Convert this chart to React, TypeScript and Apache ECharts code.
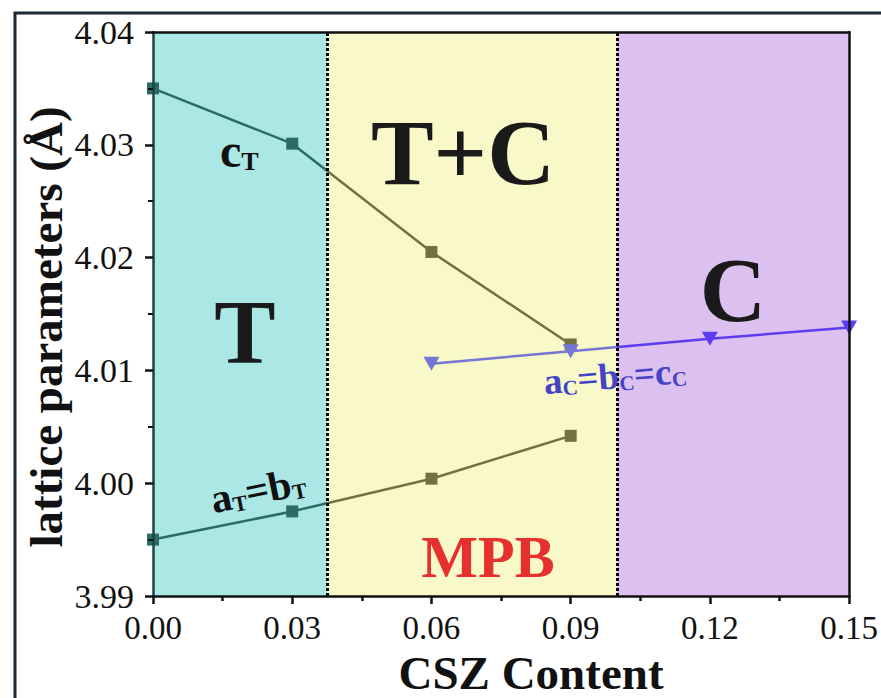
import React, { useEffect, useRef } from "react";
import * as echarts from "echarts";

// ---- data ----
const tetraX = [0, 0.03, 0.06, 0.09];
const cT = [4.035, 4.0301, 4.0205, 4.0123];
const aT = [3.995, 3.9975, 4.0004, 4.0042];
const cubicX = [0.06, 0.09, 0.12, 0.15];
const aC = [4.0106, 4.0117, 4.0128, 4.0138];
const phaseBounds = [0.0375, 0.1];
const xMin = 0;
const xMax = 0.15;
const xInterval = 0.03;
const yMin = 3.99;
const yMax = 4.04;
const yInterval = 0.01;

const CYAN = "#aae7e5";
const YELLOW = "#f8f8c8";
const PURPLE = "#dcc0f0";
const TEAL = "#2b6b66";
const OLIVE = "#727240";
const BLUE_LIGHT = "#7676d6";
const BLUE = "#5a3cf2";
const FONT = "Liberation Serif";

export default function App() {
  const ref = useRef<HTMLDivElement>(null);
  useEffect(() => {
    if (!ref.current) return;
    const chart = echarts.init(ref.current, undefined, { renderer: "svg" });
    const pairs = (xs: number[], ys: number[]) => xs.map((x, i) => [x, ys[i]]);
    const axisLineStyle = { color: "#111", width: 2.5 };
    const option: any = {
      animation: false,
      backgroundColor: "#fff",
      textStyle: { fontFamily: FONT },
      grid: { left: 153, top: 32, width: 699, height: 564, containLabel: false },
      xAxis: [
        {
          type: "value",
          position: "bottom",
          min: xMin,
          max: xMax,
          interval: xInterval,
          z: 5,
          axisLine: { show: true, onZero: false, lineStyle: axisLineStyle },
          axisTick: { show: true, inside: false, length: 8, lineStyle: { color: "#111", width: 2.5 } },
          minorTick: { show: true, splitNumber: 2, length: 5, lineStyle: { color: "#111", width: 2.5 } },
          axisLabel: {
            margin: 15,
            fontFamily: FONT,
            fontSize: 33,
            color: "#111",
            formatter: (v: number) => v.toFixed(2),
          },
          splitLine: { show: false },
        },
        {
          type: "value",
          position: "top",
          min: xMin,
          max: xMax,
          z: 5,
          axisLine: { show: true, onZero: false, lineStyle: axisLineStyle },
          axisTick: { show: false },
          axisLabel: { show: false },
          splitLine: { show: false },
        },
      ],
      yAxis: [
        {
          type: "value",
          position: "left",
          min: yMin,
          max: yMax,
          interval: yInterval,
          z: 5,
          axisLine: { show: true, onZero: false, lineStyle: { color: "#1f4444", width: 2.5 } },
          axisTick: { show: true, inside: false, length: 8, lineStyle: { color: "#111", width: 2.5 } },
          minorTick: { show: true, splitNumber: 2, length: 5, lineStyle: { color: "#111", width: 2 } },
          axisLabel: {
            margin: 19,
            fontFamily: FONT,
            fontSize: 34,
            color: "#111",
            formatter: (v: number) => v.toFixed(2),
          },
          splitLine: { show: false },
        },
        {
          type: "value",
          position: "right",
          min: yMin,
          max: yMax,
          z: 5,
          axisLine: { show: true, onZero: false, lineStyle: axisLineStyle },
          axisTick: { show: false },
          axisLabel: { show: false },
          splitLine: { show: false },
        },
      ],
      visualMap: [
        {
          type: "piecewise",
          show: false,
          dimension: 0,
          seriesIndex: [1, 2],
          pieces: [
            { lt: phaseBounds[0], color: TEAL },
            { gte: phaseBounds[0], lte: 1, color: OLIVE },
            { gt: 1, color: OLIVE },
          ],
        },
        {
          type: "piecewise",
          show: false,
          dimension: 0,
          seriesIndex: [3],
          pieces: [
            { lt: phaseBounds[1], color: BLUE_LIGHT },
            { gte: phaseBounds[1], lte: 1, color: BLUE },
            { gt: 1, color: BLUE },
          ],
        },
      ],
      series: [
        {
          type: "line",
          data: [[xMin, yMin], [xMax, yMin]],
          z: 1,
          silent: true,
          symbol: "none",
          lineStyle: { opacity: 0 },
          markArea: {
            silent: true,
            data: [
              [{ xAxis: xMin, itemStyle: { color: CYAN } }, { xAxis: phaseBounds[0] }],
              [{ xAxis: phaseBounds[0], itemStyle: { color: YELLOW } }, { xAxis: phaseBounds[1] }],
              [{ xAxis: phaseBounds[1], itemStyle: { color: PURPLE } }, { xAxis: xMax }],
            ],
          },
          markLine: {
            silent: true,
            precision: 5,
            symbol: ["none", "none"],
            label: { show: false },
            lineStyle: { color: "#000", width: 3, type: [3, 2] },
            data: phaseBounds.map((b) => ({ xAxis: b })),
          },
        },
        {
          name: "cT",
          type: "line",
          z: 3,
          data: pairs(tetraX, cT),
          symbol: "rect",
          symbolSize: 12,
          lineStyle: { width: 2.5 },
        },
        {
          name: "aT",
          type: "line",
          z: 3,
          data: pairs(tetraX, aT),
          symbol: "rect",
          symbolSize: 12,
          lineStyle: { width: 2.5 },
        },
        {
          name: "aC",
          type: "line",
          z: 4,
          data: pairs(cubicX, aC),
          symbol: "triangle",
          symbolRotate: 180,
          symbolSize: [16, 14],
          lineStyle: { width: 2.5 },
        },
      ],
      graphic: [
        {
          type: "rect",
          shape: { x: 15, y: 13, width: 900, height: 800 },
          style: { fill: "none", stroke: "#1c2833", lineWidth: 3 },
          z: 10,
        },
        {
          type: "text",
          x: 46,
          y: 327,
          rotation: Math.PI / 2,
          z: 10,
          style: { text: "lattice parameters (Å)", fontFamily: FONT, fontSize: 47, fontWeight: "bold", fill: "#111", align: "center", verticalAlign: "middle" },
        },
        {
          type: "text",
          x: 531,
          y: 673,
          z: 10,
          style: { text: "CSZ Content", fontFamily: FONT, fontSize: 47, fontWeight: "bold", fill: "#111", align: "center", verticalAlign: "middle" },
        },
        {
          type: "text",
          x: 245,
          y: 332,
          z: 10,
          style: { text: "T", fontFamily: FONT, fontSize: 92, fontWeight: "bold", fill: "#1a1a1a", align: "center", verticalAlign: "middle" },
        },
        {
          type: "text",
          x: 463,
          y: 152,
          z: 10,
          style: { text: "T+C", fontFamily: FONT, fontSize: 94, fontWeight: "bold", fill: "#1a1a1a", align: "center", verticalAlign: "middle" },
        },
        {
          type: "text",
          x: 733,
          y: 290,
          z: 10,
          style: { text: "C", fontFamily: FONT, fontSize: 92, fontWeight: "bold", fill: "#1a1a1a", align: "center", verticalAlign: "middle" },
        },
        {
          type: "text",
          x: 488,
          y: 557,
          z: 10,
          style: { text: "MPB", fontFamily: FONT, fontSize: 60, fontWeight: "bold", fill: "#e5302e", align: "center", verticalAlign: "middle" },
        },
        {
          type: "text",
          x: 220,
          y: 150,
          z: 10,
          style: {
            text: "{m|c}{s|T}",
            align: "left",
            verticalAlign: "middle",
            fill: "#111",
            rich: {
              m: { fontFamily: FONT, fontSize: 48, fontWeight: "bold", fill: "#111", lineHeight: 48, verticalAlign: "bottom" },
              s: { fontFamily: FONT, fontSize: 26, fontWeight: "bold", fill: "#111", lineHeight: 22, verticalAlign: "bottom" },
            },
          },
        },
        {
          type: "text",
          x: 258,
          y: 490,
          rotation: 0.2,
          z: 10,
          style: {
            text: "{m|a}{s|T}{m|=b}{s|T}",
            align: "center",
            verticalAlign: "middle",
            fill: "#111",
            rich: {
              m: { fontFamily: FONT, fontSize: 41, fontWeight: "bold", fill: "#111", lineHeight: 41, verticalAlign: "bottom" },
              s: { fontFamily: FONT, fontSize: 22, fontWeight: "bold", fill: "#111", lineHeight: 18, verticalAlign: "bottom" },
            },
          },
        },
        {
          type: "text",
          x: 615,
          y: 376,
          rotation: 0.08,
          z: 10,
          style: {
            text: "{m|a}{s|C}{m|=b}{s|C}{m|=c}{s|C}",
            align: "center",
            verticalAlign: "middle",
            fill: "#4444c6",
            rich: {
              m: { fontFamily: FONT, fontSize: 37, fontWeight: "bold", fill: "#4444c6", lineHeight: 37, verticalAlign: "bottom" },
              s: { fontFamily: FONT, fontSize: 21, fontWeight: "bold", fill: "#4444c6", lineHeight: 17, verticalAlign: "bottom" },
            },
          },
        },
      ],
    };
    chart.setOption(option);
    return () => chart.dispose();
  }, []);
  return (
    <div
      ref={ref}
      style={{ position: "absolute", left: 0, top: 0, width: 881, height: 698, background: "#fff" }}
    />
  );
}
